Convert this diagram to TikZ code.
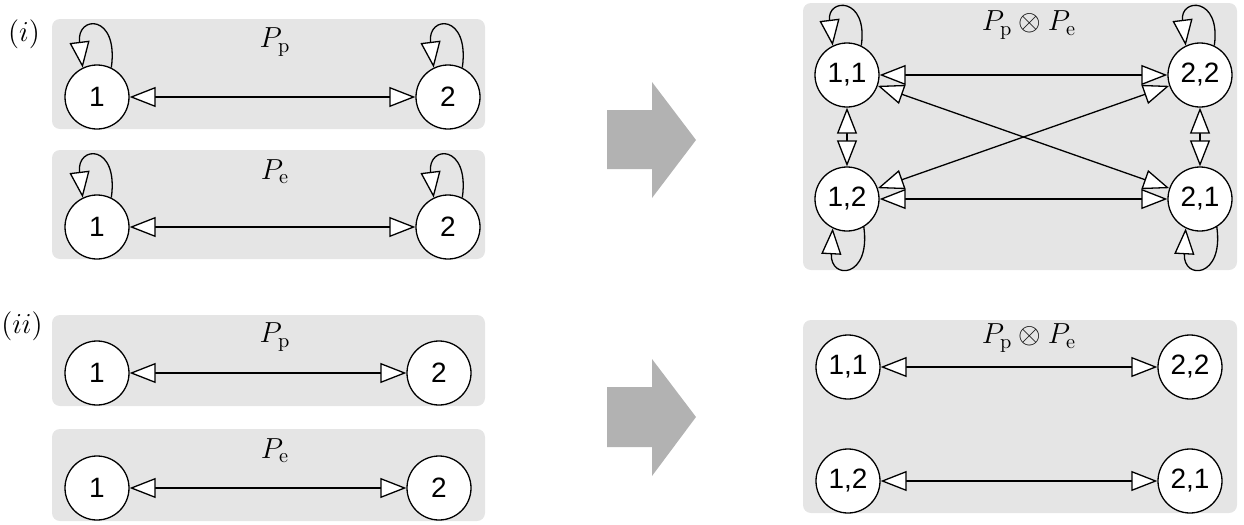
\documentclass[tikz,border=0pt]{standalone}
\usepackage{fontspec}
\usepackage{fix-cm}
\newfontfamily\nodefont{Liberation Sans}
\usetikzlibrary{arrows.meta}
\tikzset{
  tri/.tip={Triangle[fill=white,length=13pt,width=10pt]},
  state/.style={circle,draw,fill=white,line width=0.65pt,minimum size=32pt,inner sep=0pt,font=\nodefont\fontsize{14}{16}\selectfont},
  panel/.style={fill=black!10,rounded corners=4pt},
  bidir/.style={line width=0.65pt,{tri}-{tri}},
  selfloop/.style={line width=0.65pt,-{tri}},
  bigarrow/.style={fill=black!30},
  lbl/.style={font=\fontsize{14.5}{16}\selectfont,inner sep=0pt}
}
\begin{document}
\begin{tikzpicture}[x=0.5pt,y=0.5pt]
\useasboundingbox (0,0) rectangle (1244,-525);
% panels
\fill[panel] (52,-19) rectangle (485,-129);
\fill[panel] (52,-150) rectangle (485,-259);
\fill[panel] (52,-315) rectangle (485,-406);
\fill[panel] (52,-429) rectangle (485,-521);
\fill[panel] (803,-3) rectangle (1237,-270);
\fill[panel] (803,-320) rectangle (1237,-513);
% labels
\node[lbl] (li) at (24,-34) {$(i)$};
\node[lbl] (lii) at (22,-326) {$(ii)$};
\node[lbl] (tp1) at (275,-42) {$P_\mathrm{p}$};
\node[lbl] (te1) at (275,-172) {$P_\mathrm{e}$};
\node[lbl] (tp2) at (275,-337) {$P_\mathrm{p}$};
\node[lbl] (te2) at (275,-451) {$P_\mathrm{e}$};
\node[lbl] (tpe1) at (1029,-25) {$P_\mathrm{p}\otimes P_\mathrm{e}$};
\node[lbl] (tpe2) at (1029,-338) {$P_\mathrm{p}\otimes P_\mathrm{e}$};
% (i) nodes
\node[state] (a1) at (97,-97) {1};
\node[state] (a2) at (448,-97) {2};
\node[state] (b1) at (97,-227) {1};
\node[state] (b2) at (448,-227) {2};
\draw[bidir] (a1) -- (a2);
\draw[bidir] (b1) -- (b2);
\foreach \n in {a1,a2,b1,b2}{
  \draw[selfloop] (\n.64) .. controls +(82:55) and +(97:53) .. (\n.116);
}
% (ii) nodes
\node[state] (c1) at (97,-373) {1};
\node[state] (c2) at (439,-373) {2};
\node[state] (d1) at (97,-488) {1};
\node[state] (d2) at (439,-488) {2};
\draw[bidir] (c1) -- (c2);
\draw[bidir] (d1) -- (d2);
% product (i)
\node[state] (p11) at (847,-75) {1,1};
\node[state] (p22) at (1200,-75) {2,2};
\node[state] (p12) at (847,-199) {1,2};
\node[state] (p21) at (1200,-199) {2,1};
\draw[bidir] (p11) -- (p22);
\draw[bidir] (p12) -- (p21);
\draw[bidir] (p11) -- (p21);
\draw[bidir] (p12) -- (p22);
\draw[bidir] (p11) -- (p12);
\draw[bidir] (p22) -- (p21);
\foreach \n in {p11,p22}{
  \draw[selfloop] (\n.64) .. controls +(82:50) and +(97:48) .. (\n.116);
}
\foreach \n in {p12,p21}{
  \draw[selfloop] (\n.-59) .. controls +(-82:52) and +(-93:52) .. (\n.-116);
}
% product (ii)
\node[state] (q11) at (848,-367) {1,1};
\node[state] (q22) at (1190,-367) {2,2};
\node[state] (q12) at (848,-481) {1,2};
\node[state] (q21) at (1190,-481) {2,1};
\draw[bidir] (q11) -- (q22);
\draw[bidir] (q12) -- (q21);
% big arrows
\fill[bigarrow] (607,-110) -- (652,-110) -- (652,-82) -- (696,-140) -- (652,-198) -- (652,-169) -- (607,-169) -- cycle;
\fill[bigarrow] (607,-387) -- (652,-387) -- (652,-359) -- (696,-417) -- (652,-476) -- (652,-447) -- (607,-447) -- cycle;
\end{tikzpicture}
\end{document}
